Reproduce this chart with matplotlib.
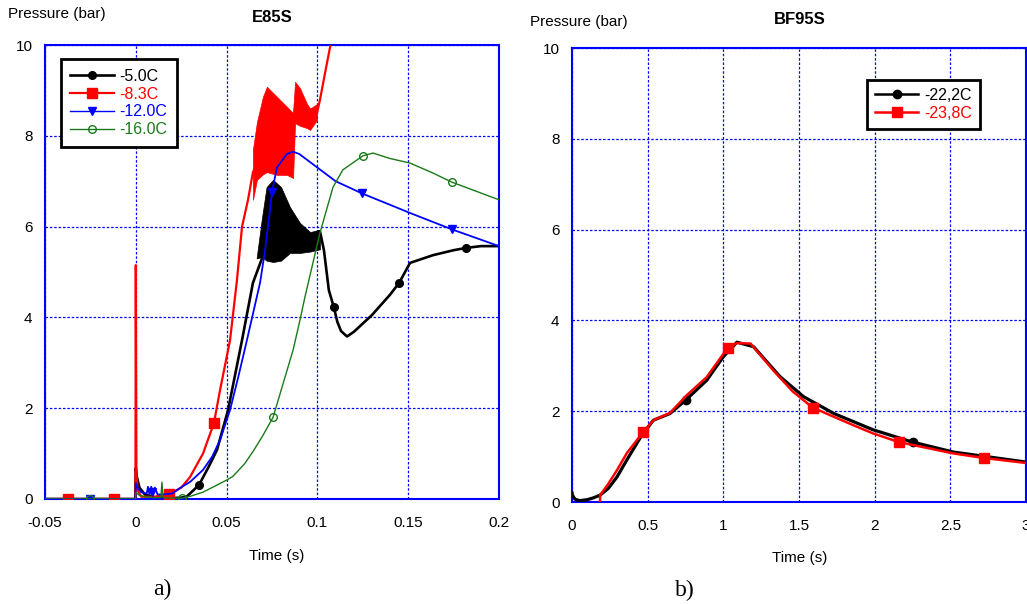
import matplotlib
matplotlib.use("Agg")
import matplotlib.pyplot as plt
from matplotlib.lines import Line2D

plt.rcParams["font.family"] = ["Liberation Sans", "DejaVu Sans"]

# ---------------------------------------------------------------------------
# Data
# ---------------------------------------------------------------------------
# a) E85S
E5_T = [-0.05, -0.0003, 0.0, 0.0005, 0.002, 0.005, 0.01, 0.02, 0.025, 0.028, 0.0348,
        0.04, 0.0447, 0.0508, 0.0585, 0.0645, 0.0695, 0.0756, 0.085, 0.095, 0.1014,
        0.1036, 0.1063, 0.109, 0.111, 0.113, 0.1163, 0.12, 0.13, 0.14, 0.145, 0.151,
        0.1636, 0.175, 0.1818, 0.19, 0.2]
E5_P = [0.0, 0.0, 0.68, 0.5, 0.25, 0.1, 0.04, 0.02, 0.03, 0.05, 0.31,
        0.7, 1.08, 1.96, 3.5, 4.76, 5.3, 6.8, 6.2, 5.8, 5.9,
        5.48, 4.6, 4.23, 3.9, 3.7, 3.58, 3.68, 4.05, 4.5, 4.76, 5.2,
        5.37, 5.48, 5.53, 5.57, 5.57]
E5_BAND_T = [0.0665, 0.0695, 0.072, 0.0756, 0.08, 0.0849, 0.0904, 0.096, 0.1014]
E5_BAND_LO = [5.3, 5.33, 5.25, 5.22, 5.25, 5.42, 5.42, 5.45, 5.5]
E5_BAND_HI = [5.3, 6.2, 6.87, 7.03, 6.87, 6.43, 6.08, 5.88, 5.93]
E5_MK_T = [0.0348, 0.109, 0.145, 0.1818]
E5_MK_P = [0.31, 4.23, 4.76, 5.53]

E8_T = [-0.05, -0.0002, 0.0, 0.0003, 0.001, 0.003, 0.01, 0.0183, 0.025, 0.0298, 0.037,
        0.043, 0.0464, 0.0519, 0.0557, 0.0585, 0.0618, 0.0645, 0.075, 0.0866, 0.0877,
        0.093, 0.0998, 0.1014, 0.1042, 0.107, 0.109]
E8_P = [0.0, 0.0, 5.15, 0.6, 0.2, 0.05, 0.05, 0.1, 0.25, 0.48, 1.0,
        1.67, 2.4, 3.5, 4.82, 6.0, 6.59, 7.2, 8.1, 7.8, 8.7,
        8.5, 8.5, 8.79, 9.38, 9.96, 10.4]
E8_BAND_T = [0.0645, 0.0667, 0.07, 0.0722, 0.0777, 0.0832, 0.0866, 0.0877, 0.0904,
             0.0943, 0.096, 0.0998]
E8_BAND_LO = [6.59, 7.03, 7.15, 7.2, 7.14, 7.14, 7.07, 8.28, 8.22, 8.17, 8.13, 8.35]
E8_BAND_HI = [7.7, 8.3, 8.86, 9.08, 8.86, 8.64, 8.5, 9.19, 9.05, 8.7, 8.6, 8.7]
E8_MK_T = [-0.0373, -0.012, 0.0183, 0.043]
E8_MK_P = [0.0, 0.0, 0.1, 1.67]

E12_T = [-0.05, -0.0002, 0.0, 0.001, 0.003, 0.006, 0.0067, 0.0075, 0.0085, 0.0095,
         0.0105, 0.012, 0.015, 0.02, 0.0243, 0.03, 0.037, 0.042, 0.0464, 0.0519,
         0.0565, 0.0612, 0.0684, 0.0712, 0.0739, 0.075, 0.0777, 0.0832, 0.0866, 0.09,
         0.1, 0.11, 0.1246, 0.14, 0.151, 0.174, 0.2]
E12_P = [0.0, 0.0, 0.35, 0.25, 0.15, 0.12, 0.27, 0.1, 0.27, 0.1,
         0.25, 0.1, 0.1, 0.12, 0.24, 0.38, 0.64, 0.93, 1.3, 1.96,
         2.7, 3.5, 4.76, 5.48, 6.37, 6.77, 7.3, 7.6, 7.65, 7.6,
         7.3, 7.0, 6.73, 6.48, 6.3, 5.94, 5.57]
E12_MK_T = [-0.0252, 0.0089, 0.075, 0.1246, 0.174]
E12_MK_P = [0.0, 0.15, 6.77, 6.73, 5.94]

E16_T = [-0.05, -0.0002, 0.0, 0.002, 0.005, 0.01, 0.0138, 0.0144, 0.015, 0.02, 0.0254,
         0.03, 0.037, 0.0502, 0.0535, 0.06, 0.0646, 0.07, 0.0756, 0.0866, 0.0904, 0.0932,
         0.1014, 0.1086, 0.114, 0.1251, 0.1306, 0.14, 0.151, 0.1636, 0.174, 0.2]
E16_P = [0.0, 0.0, 0.15, 0.08, 0.05, 0.03, 0.03, 0.37, 0.03, 0.02, 0.02,
         0.06, 0.15, 0.42, 0.5, 0.78, 1.05, 1.4, 1.8, 3.28, 3.94, 4.46,
         5.86, 6.87, 7.25, 7.56, 7.62, 7.5, 7.4, 7.18, 6.98, 6.59]
E16_MK_T = [-0.0252, 0.0254, 0.0756, 0.1251, 0.174]
E16_MK_P = [0.0, 0.02, 1.8, 7.56, 6.98]

# b) BF95S
B22_T = [0.0, 0.003, 0.02, 0.05, 0.1, 0.14, 0.185, 0.24, 0.297, 0.363, 0.45, 0.537,
         0.648, 0.753, 0.89, 1.0, 1.09, 1.2, 1.375, 1.53, 1.73, 1.99, 2.25, 2.52, 3.0]
B22_P = [0.2, 0.15, 0.06, 0.03, 0.05, 0.09, 0.15, 0.3, 0.55, 0.93, 1.41, 1.8,
         1.95, 2.25, 2.68, 3.2, 3.52, 3.42, 2.76, 2.32, 1.95, 1.59, 1.32, 1.1, 0.88]
B22_MK_T = [0.753, 2.25]
B22_MK_P = [2.25, 1.32]

B23_T = [0.185, 0.186, 0.24, 0.297, 0.363, 0.47, 0.537, 0.647, 0.758, 0.89, 1.03,
         1.09, 1.18, 1.33, 1.46, 1.59, 1.86, 1.99, 2.16, 2.52, 2.72, 3.0]
B23_P = [0.0, 0.15, 0.4, 0.7, 1.08, 1.54, 1.8, 1.96, 2.35, 2.75, 3.4,
         3.5, 3.49, 2.9, 2.43, 2.08, 1.69, 1.51, 1.32, 1.07, 0.97, 0.86]
B23_MK_T = [0.47, 1.03, 1.59, 2.16, 2.72]
B23_MK_P = [1.54, 3.4, 2.08, 1.32, 0.97]

LEFT_X_TICKS = [-0.05, 0, 0.05, 0.1, 0.15, 0.2]
LEFT_X_LABELS = ["-0.05", "0", "0.05", "0.1", "0.15", "0.2"]
RIGHT_X_TICKS = [0, 0.5, 1, 1.5, 2, 2.5, 3]
RIGHT_X_LABELS = ["0", "0.5", "1", "1.5", "2", "2.5", "3"]
Y_TICKS = [0, 2, 4, 6, 8, 10]

GREEN = "#1a7a1a"


def style_axes(ax, xlim, xticks, xlabels):
    ax.set_xlim(*xlim)
    ax.set_ylim(0, 10)
    ax.set_xticks(xticks)
    ax.set_xticklabels(xlabels)
    ax.set_yticks(Y_TICKS)
    ax.set_yticklabels([str(v) for v in Y_TICKS])
    ax.tick_params(axis="both", length=0, labelsize=11)
    ax.tick_params(axis="x", pad=12)
    ax.tick_params(axis="y", pad=9)
    for sp in ax.spines.values():
        sp.set_color("blue")
        sp.set_linewidth(1.5)
    ax.grid(True, color="blue", linestyle=(0, (2, 1.5)), linewidth=0.9)
    ax.set_axisbelow(True)


fig = plt.figure(figsize=(10.27, 6.04), dpi=100)
ax_a = fig.add_axes([45 / 1027, 105 / 604, 454 / 1027, 454 / 604])
ax_b = fig.add_axes([572 / 1027, 102 / 604, 454 / 1027, 454 / 604])

# ---------------------------------------------------------------------------
# a) E85S
# ---------------------------------------------------------------------------
style_axes(ax_a, (-0.05, 0.2), LEFT_X_TICKS, LEFT_X_LABELS)

ax_a.fill_between(E5_BAND_T, E5_BAND_LO, E5_BAND_HI, color="black", lw=0.5, zorder=2)
ax_a.plot(E5_T, E5_P, color="black", lw=1.9, zorder=2)
ax_a.plot(E5_MK_T, E5_MK_P, "o", color="black", ms=5.5, zorder=2)

ax_a.fill_between(E8_BAND_T, E8_BAND_LO, E8_BAND_HI, color="red", lw=0.5, zorder=3)
ax_a.plot(E8_T, E8_P, color="red", lw=1.6, zorder=3)
ax_a.plot(E8_MK_T, E8_MK_P, "s", color="red", ms=7, zorder=3)

ax_a.plot(E12_T, E12_P, color="blue", lw=1.3, zorder=4)
ax_a.plot(E12_MK_T, E12_MK_P, "v", color="blue", ms=5.5, zorder=4)

ax_a.plot(E16_T, E16_P, color=GREEN, lw=1.0, zorder=5)
ax_a.plot(E16_MK_T, E16_MK_P, "o", color=GREEN, mfc="none", mew=1.0, ms=5.5, zorder=5)

handles_a = [
    Line2D([], [], color="black", lw=1.9, marker="o", ms=5.5),
    Line2D([], [], color="red", lw=1.6, marker="s", ms=7),
    Line2D([], [], color="blue", lw=1.0, marker="v", ms=5.5),
    Line2D([], [], color=GREEN, lw=1.0, marker="o", mfc="none", ms=5.5),
]
labels_a = ["-5.0C", "-8.3C", "-12.0C", "-16.0C"]
leg = ax_a.legend(handles_a, labels_a, loc="upper left", bbox_to_anchor=(0.035, 0.969),
                  borderaxespad=0, fontsize=11.5, handlelength=2.7, labelspacing=0.18,
                  fancybox=False, framealpha=1, edgecolor="black", borderpad=0.6,
                  handletextpad=0.35)
leg.get_frame().set_linewidth(2)
for txt, c in zip(leg.get_texts(), ["black", "red", "blue", GREEN]):
    txt.set_color(c)

fig.text(8 / 1027, 1 - 14 / 604, "Pressure (bar)", fontsize=11, va="center", ha="left")
fig.text(272 / 1027, 1 - 17 / 604, "E85S", fontsize=12, fontweight="bold",
         va="center", ha="center")
fig.text(277 / 1027, 1 - 556 / 604, "Time (s)", fontsize=11, va="center", ha="center")
fig.text(162 / 1027, 1 - 589 / 604, "a)", fontsize=17, va="center", ha="center",
         family=["Liberation Serif", "DejaVu Serif"])

# ---------------------------------------------------------------------------
# b) BF95S
# ---------------------------------------------------------------------------
style_axes(ax_b, (0, 3), RIGHT_X_TICKS, RIGHT_X_LABELS)

ax_b.plot(B22_T, B22_P, color="black", lw=2.3, zorder=3)
ax_b.plot(B22_MK_T, B22_MK_P, "o", color="black", ms=6, zorder=3)
ax_b.plot(B23_T, B23_P, color="red", lw=1.8, zorder=4)
ax_b.plot(B23_MK_T, B23_MK_P, "s", color="red", ms=7.5, zorder=4)

handles_b = [
    Line2D([], [], color="black", lw=1.8, marker="o", ms=6),
    Line2D([], [], color="red", lw=1.8, marker="s", ms=7.5),
]
leg_b = ax_b.legend(handles_b, ["-22,2C", "-23,8C"], loc="upper left",
                    bbox_to_anchor=(0.65, 0.93), borderaxespad=0, fontsize=11.5,
                    handlelength=2.7, labelspacing=0.18, fancybox=False, framealpha=1,
                    edgecolor="black", borderpad=0.5, handletextpad=0.35)
leg_b.get_frame().set_linewidth(2)
for txt, c in zip(leg_b.get_texts(), ["black", "red"]):
    txt.set_color(c)

fig.text(530 / 1027, 1 - 22 / 604, "Pressure (bar)", fontsize=11, va="center", ha="left")
fig.text(800 / 1027, 1 - 20 / 604, "BF95S", fontsize=12, fontweight="bold",
         va="center", ha="center")
fig.text(800 / 1027, 1 - 558 / 604, "Time (s)", fontsize=11, va="center", ha="center")
fig.text(685 / 1027, 1 - 590 / 604, "b)", fontsize=17, va="center", ha="center",
         family=["Liberation Serif", "DejaVu Serif"])

fig.savefig("out.png", dpi=100)
